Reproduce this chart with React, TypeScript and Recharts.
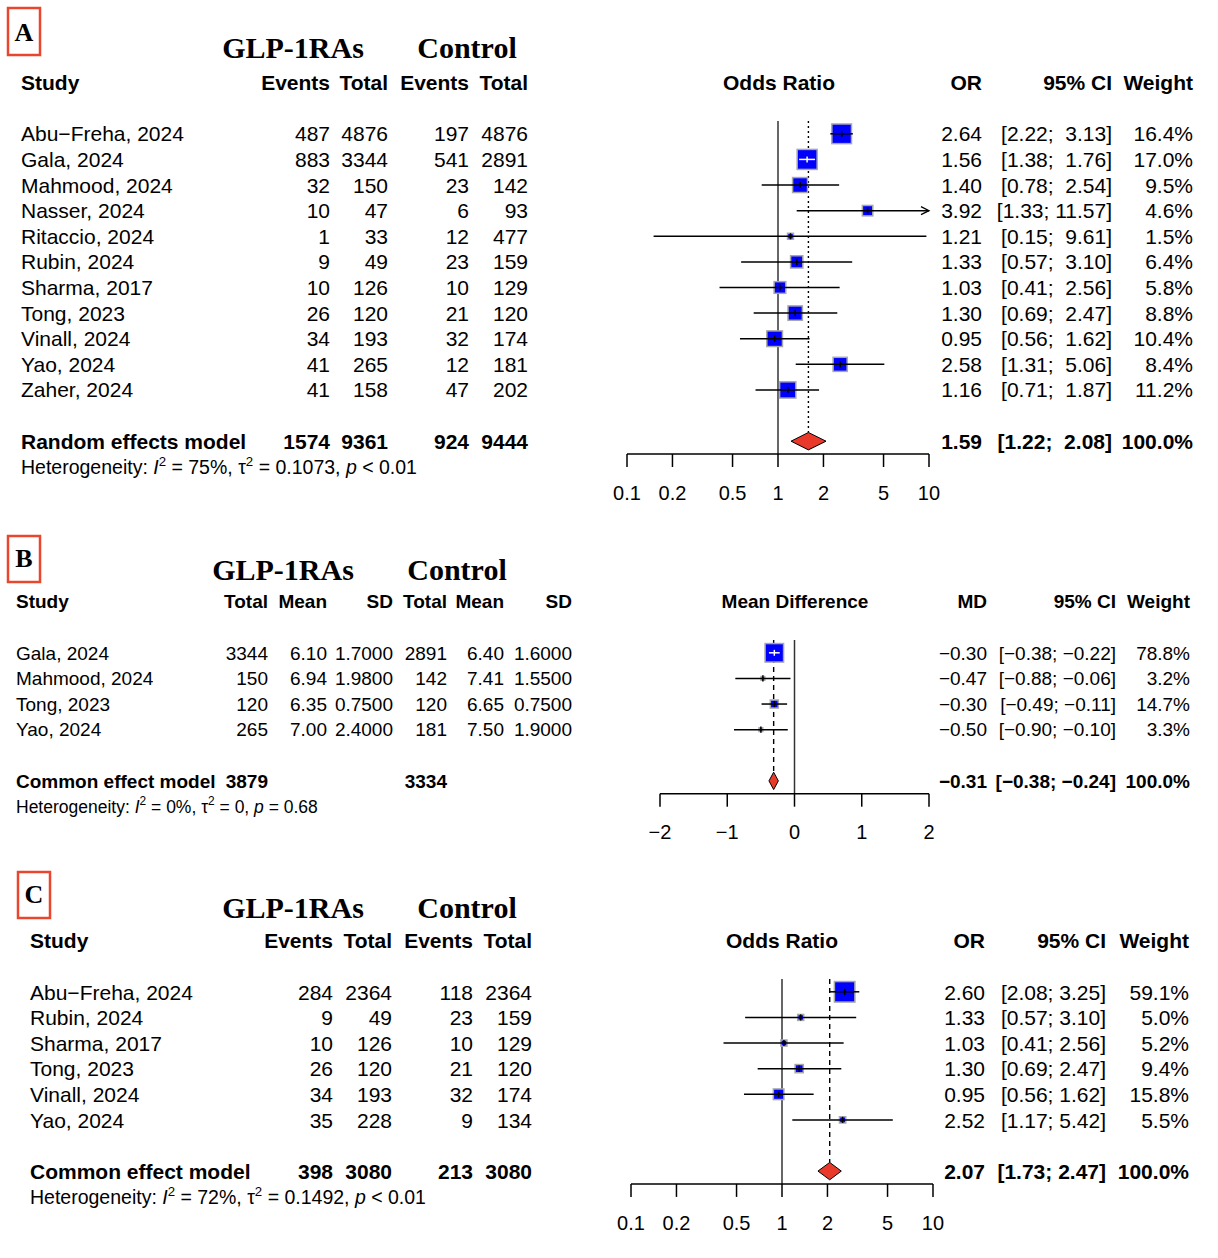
import React from 'react';
import { ComposedChart, Scatter, XAxis, YAxis, ReferenceLine, ReferenceArea } from 'recharts';

// ---------------- DATA ----------------
// Panel A
const aStudies = ['Abu−Freha, 2024', 'Gala, 2024', 'Mahmood, 2024', 'Nasser, 2024', 'Ritaccio, 2024', 'Rubin, 2024', 'Sharma, 2017', 'Tong, 2023', 'Vinall, 2024', 'Yao, 2024', 'Zaher, 2024'];
const aExpEvents = [487, 883, 32, 10, 1, 9, 10, 26, 34, 41, 41];
const aExpTotal = [4876, 3344, 150, 47, 33, 49, 126, 120, 193, 265, 158];
const aCtrlEvents = [197, 541, 23, 6, 12, 23, 10, 21, 32, 12, 47];
const aCtrlTotal = [4876, 2891, 142, 93, 477, 159, 129, 120, 174, 181, 202];
const aOR = [2.64, 1.56, 1.40, 3.92, 1.21, 1.33, 1.03, 1.30, 0.95, 2.58, 1.16];
const aLower = [2.22, 1.38, 0.78, 1.33, 0.15, 0.57, 0.41, 0.69, 0.56, 1.31, 0.71];
const aUpper = [3.13, 1.76, 2.54, 11.57, 9.61, 3.10, 2.56, 2.47, 1.62, 5.06, 1.87];
const aWeight = [16.4, 17.0, 9.5, 4.6, 1.5, 6.4, 5.8, 8.8, 10.4, 8.4, 11.2];
const aModelTotals = [1574, 9361, 924, 9444];
const aPooled = [1.59, 1.22, 2.08];
const aHet = { i2: '75%', tau2: '0.1073', p: '< 0.01' };

// Panel B
const bStudies = ['Gala, 2024', 'Mahmood, 2024', 'Tong, 2023', 'Yao, 2024'];
const bExpTotal = [3344, 150, 120, 265];
const bExpMean = [6.10, 6.94, 6.35, 7.00];
const bExpSD = [1.70, 1.98, 0.75, 2.40];
const bCtrlTotal = [2891, 142, 120, 181];
const bCtrlMean = [6.40, 7.41, 6.65, 7.50];
const bCtrlSD = [1.60, 1.55, 0.75, 1.90];
const bMD = [-0.30, -0.47, -0.30, -0.50];
const bLower = [-0.38, -0.88, -0.49, -0.90];
const bUpper = [-0.22, -0.06, -0.11, -0.10];
const bWeight = [78.8, 3.2, 14.7, 3.3];
const bModelTotals = [3879, 3334];
const bPooled = [-0.31, -0.38, -0.24];
const bHet = { i2: '0%', tau2: '0', p: '= 0.68' };

// Panel C
const cStudies = ['Abu−Freha, 2024', 'Rubin, 2024', 'Sharma, 2017', 'Tong, 2023', 'Vinall, 2024', 'Yao, 2024'];
const cExpEvents = [284, 9, 10, 26, 34, 35];
const cExpTotal = [2364, 49, 126, 120, 193, 228];
const cCtrlEvents = [118, 23, 10, 21, 32, 9];
const cCtrlTotal = [2364, 159, 129, 120, 174, 134];
const cOR = [2.60, 1.33, 1.03, 1.30, 0.95, 2.52];
const cLower = [2.08, 0.57, 0.41, 0.69, 0.56, 1.17];
const cUpper = [3.25, 3.10, 2.56, 2.47, 1.62, 5.42];
const cWeight = [59.1, 5.0, 5.2, 9.4, 15.8, 5.5];
const cModelTotals = [398, 3080, 213, 3080];
const cPooled = [2.07, 1.73, 2.47];
const cHet = { i2: '72%', tau2: '0.1492', p: '< 0.01' };

// Axis ticks
const orTicks = [0.1, 0.2, 0.5, 1, 2, 5, 10];
const mdTicks = [-2, -1, 0, 1, 2];

// ---------------- STYLE / LAYOUT ----------------
const ROW = 25.615;
const SANS = '"Liberation Sans", Arial, Helvetica, sans-serif';
const SERIF = '"Liberation Serif", "Times New Roman", Times, serif';
const BLUE = '#0000FF';
const RED = '#E8392A';
const BOXRED = '#E8472E';

const minus = (s: string) => s.replace('-', '−');
const f2 = (v: number) => minus(v.toFixed(2));
const fmtCI = (lo: number[], hi: number[]) => {
  const ls = lo.map(f2);
  const hs = hi.map(f2);
  const wl = Math.max(...ls.map((s) => s.length));
  const wh = Math.max(...hs.map((s) => s.length));
  return lo.map((_, i) => `[${ls[i].padStart(wl)}; ${hs[i].padStart(wh)}]`);
};
const pct = (v: number) => v.toFixed(1) + '%';

type ForestProps = {
  plotLeft: number;
  plotRight: number;
  plotTop: number;
  yMax: number;
  log: boolean;
  domain: [number, number];
  ticks: number[];
  est: number[];
  lo: number[];
  hi: number[];
  w: number[];
  pooled: number[];
  pooledRow: number;
  maxSide: number;
  nullX: number;
  dash: string;
  tickFont: number;
  tickMargin: number;
};

function Forest(p: ForestProps) {
  const mL = 30;
  const mR = 30;
  const mT = 10;
  const axisH = 70;
  const yMin = -0.5;
  const plotW = p.plotRight - p.plotLeft;
  const plotH = ROW * (p.yMax - yMin);
  const width = plotW + mL + mR;
  const height = mT + plotH + axisH;
  const [dMin, dMax] = p.domain;
  const wMax = Math.max(...p.w);
  const side = (w: number) => p.maxSide * Math.sqrt(w / wMax);
  const pts = p.est.map((x, i) => ({ x, y: i, w: p.w[i] }));
  const tf = (v: number) => (p.log ? String(v) : minus(String(v)));
  const tr = (v: number) => (p.log ? Math.log(v) : v);
  const [pe, pl, ph] = p.pooled;
  const frac = (tr(pe) - tr(pl)) / (tr(ph) - tr(pl));

  const squareShape = (props: any) => {
    const { cx, cy, payload } = props;
    const s = side(payload.w);
    return (
      <rect x={cx - s / 2} y={cy - s / 2} width={s} height={s} fill={BLUE} stroke="#A8A8A8" strokeWidth={1.5} />
    );
  };

  const ciShape = (props: any, s: number, arrow: boolean) => {
    const { x1, y1, x2, y2 } = props;
    const inside = Math.abs(x2 - x1) < s;
    const col = inside ? '#FFFFFF' : '#000000';
    const mx = (x1 + x2) / 2;
    return (
      <g>
        <line x1={x1} y1={y1} x2={x2} y2={y2} stroke={col} strokeWidth={1.5} />
        {inside && <line x1={mx} y1={y1 - 3} x2={mx} y2={y1 + 3} stroke="#FFFFFF" strokeWidth={1.5} />}
        {arrow && (
          <path d={`M${x2 - 8},${y2 - 4} L${x2},${y2} L${x2 - 8},${y2 + 4}`} fill="none" stroke="#000" strokeWidth={1.3} />
        )}
      </g>
    );
  };

  const diamondShape = (props: any) => {
    const { x, y, width: w, height: h } = props;
    const ax = x + frac * w;
    return (
      <polygon
        points={`${x},${y + h / 2} ${ax},${y} ${x + w},${y + h / 2} ${ax},${y + h}`}
        fill={RED}
        stroke="#000"
        strokeWidth={1}
      />
    );
  };

  return (
    <div style={{ position: 'absolute', left: p.plotLeft - mL, top: p.plotTop - mT, fontFamily: SANS }}>
      <ComposedChart width={width} height={height} margin={{ top: mT, right: mR, left: mL, bottom: 0 }}>
        <XAxis
          type="number"
          dataKey="x"
          scale={p.log ? 'log' : 'linear'}
          domain={p.domain}
          ticks={p.ticks}
          interval={0}
          allowDataOverflow
          height={axisH}
          tickSize={13}
          tickMargin={p.tickMargin}
          axisLine={{ stroke: '#000', strokeWidth: 1.5 }}
          tickLine={{ stroke: '#000', strokeWidth: 1.5 }}
          tick={{ fill: '#000', fontSize: p.tickFont }}
          tickFormatter={tf}
        />
        <YAxis type="number" dataKey="y" domain={[yMin, p.yMax]} reversed hide allowDataOverflow />
        <ReferenceLine x={p.nullX} stroke="#333" strokeWidth={1.5} />
        <ReferenceLine
          segment={[
            { x: pe, y: yMin },
            { x: pe, y: p.pooledRow - 0.34 },
          ]}
          stroke="#000"
          strokeWidth={1.4}
          strokeDasharray={p.dash}
        />
        <ReferenceArea
          x1={pl}
          x2={ph}
          y1={p.pooledRow - 0.34}
          y2={p.pooledRow + 0.34}
          shape={diamondShape}
          ifOverflow="visible"
        />
        <Scatter data={pts} shape={squareShape} isAnimationActive={false} />
        {p.est.map((e, i) => (
          <ReferenceLine
            key={'t' + i}
            segment={[
              { x: e, y: i - 0.12 },
              { x: e, y: i + 0.12 },
            ]}
            stroke="#000"
            strokeWidth={1.5}
            zIndex={700}
          />
        ))}
        {p.est.map((e, i) => {
          const lo = Math.max(p.lo[i], dMin);
          const hi = Math.min(p.hi[i], dMax);
          const arrow = p.hi[i] > dMax;
          const s = side(p.w[i]);
          return (
            <ReferenceLine
              key={'c' + i}
              segment={[
                { x: lo, y: i },
                { x: hi, y: i },
              ]}
              stroke="#000"
              zIndex={700}
              shape={(props: any) => ciShape(props, s, arrow)}
            />
          );
        })}
      </ComposedChart>
    </div>
  );
}

type TxtProps = { x: number; y: number; s: string; a?: 'start' | 'end' | 'middle'; b?: boolean; fs: number };
const Txt = ({ x, y, s, a = 'start', b = false, fs }: TxtProps) => (
  <text
    x={x}
    y={y + fs * 0.357}
    textAnchor={a}
    fontSize={fs}
    fontWeight={b ? 'bold' : 'normal'}
    fill="#000"
    xmlSpace="preserve"
    style={{ whiteSpace: 'pre' }}
  >
    {s}
  </text>
);

const Het = ({ x, y, fs, h }: { x: number; y: number; fs: number; h: { i2: string; tau2: string; p: string } }) => {
  const sup = fs * 0.68;
  const up = fs * 0.42;
  return (
    <text x={x} y={y + fs * 0.357} fontSize={fs} fill="#000" xmlSpace="preserve" style={{ whiteSpace: 'pre' }}>
      <tspan>{'Heterogeneity: '}</tspan>
      <tspan fontStyle="italic">{'I'}</tspan>
      <tspan fontSize={sup} dy={-up}>{'2'}</tspan>
      <tspan dy={up}>{` = ${h.i2}, τ`}</tspan>
      <tspan fontSize={sup} dy={-up}>{'2'}</tspan>
      <tspan dy={up}>{` = ${h.tau2}, `}</tspan>
      <tspan fontStyle="italic">{'p'}</tspan>
      <tspan>{` ${h.p}`}</tspan>
    </text>
  );
};

type TableProps = {
  plotTop: number;
  studyX: number;
  fs: number;
  hetFs: number;
  titleY: number;
  titleX: [number, number];
  headers: string[];
  colX: number[];
  cells: string[][];
  studies: string[];
  modelName: string;
  modelCells: (string | null)[];
  effName: string;
  effX: number;
  estName: string;
  rightX: [number, number, number];
  est: string[];
  ci: string[];
  wt: string[];
  pooled: [string, string, string];
  het: { i2: string; tau2: string; p: string };
  box: { x: number; y: number; w: number; h: number; letter: string; base: number };
};

function Table(t: TableProps) {
  const ry = (r: number) => t.plotTop + (r + 0.5) * ROW;
  const n = t.studies.length;
  const mRow = n + 1;
  return (
    <g>
      <rect x={t.box.x} y={t.box.y} width={t.box.w} height={t.box.h} fill="none" stroke={BOXRED} strokeWidth={2.5} />
      <text x={t.box.x + t.box.w / 2} y={t.box.base} textAnchor="middle" fontFamily={SERIF} fontWeight="bold" fontSize={26} fill="#000">
        {t.box.letter}
      </text>
      <text x={t.titleX[0]} y={t.titleY} textAnchor="middle" fontFamily={SERIF} fontWeight="bold" fontSize={30} fill="#000">
        GLP-1RAs
      </text>
      <text x={t.titleX[1]} y={t.titleY} textAnchor="middle" fontFamily={SERIF} fontWeight="bold" fontSize={30} fill="#000">
        Control
      </text>
      <Txt x={t.studyX} y={ry(-2)} s="Study" b fs={t.fs} />
      {t.headers.map((h, j) => (
        <Txt key={'h' + j} x={t.colX[j]} y={ry(-2)} s={h} a="end" b fs={t.fs} />
      ))}
      <Txt x={t.effX} y={ry(-2)} s={t.effName} a="middle" b fs={t.fs} />
      <Txt x={t.rightX[0]} y={ry(-2)} s={t.estName} a="end" b fs={t.fs} />
      <Txt x={t.rightX[1]} y={ry(-2)} s="95% CI" a="end" b fs={t.fs} />
      <Txt x={t.rightX[2]} y={ry(-2)} s="Weight" a="end" b fs={t.fs} />
      {t.studies.map((s, i) => (
        <g key={'r' + i}>
          <Txt x={t.studyX} y={ry(i)} s={s} fs={t.fs} />
          {t.cells[i].map((c, j) => (
            <Txt key={j} x={t.colX[j]} y={ry(i)} s={c} a="end" fs={t.fs} />
          ))}
          <Txt x={t.rightX[0]} y={ry(i)} s={t.est[i]} a="end" fs={t.fs} />
          <Txt x={t.rightX[1]} y={ry(i)} s={t.ci[i]} a="end" fs={t.fs} />
          <Txt x={t.rightX[2]} y={ry(i)} s={t.wt[i]} a="end" fs={t.fs} />
        </g>
      ))}
      <Txt x={t.studyX} y={ry(mRow)} s={t.modelName} b fs={t.fs} />
      {t.modelCells.map((c, j) =>
        c === null ? null : <Txt key={'m' + j} x={t.colX[j]} y={ry(mRow)} s={c} a="end" b fs={t.fs} />
      )}
      <Txt x={t.rightX[0]} y={ry(mRow)} s={t.pooled[0]} a="end" b fs={t.fs} />
      <Txt x={t.rightX[1]} y={ry(mRow)} s={t.pooled[1]} a="end" b fs={t.fs} />
      <Txt x={t.rightX[2]} y={ry(mRow)} s={t.pooled[2]} a="end" b fs={t.fs} />
      <Het x={t.studyX} y={ry(mRow + 1)} fs={t.hetFs} h={t.het} />
    </g>
  );
}

export default function App() {
  const A_TOP = 121;
  const B_TOP = 640;
  const C_TOP = 979.2;

  const aCI = fmtCI([...aLower, aPooled[1]], [...aUpper, aPooled[2]]);
  const bCI = fmtCI([...bLower, bPooled[1]], [...bUpper, bPooled[2]]);
  const cCI = fmtCI([...cLower, cPooled[1]], [...cUpper, cPooled[2]]);

  return (
    <div style={{ position: 'absolute', left: 0, top: 0, width: 1218, height: 1258, background: '#fff', fontFamily: SANS }}>
      <Forest
        plotLeft={627}
        plotRight={929}
        plotTop={A_TOP}
        yMax={12.5}
        log
        domain={[0.1, 10]}
        ticks={orTicks}
        est={aOR}
        lo={aLower}
        hi={aUpper}
        w={aWeight}
        pooled={aPooled}
        pooledRow={12}
        maxSide={20}
        nullX={1}
        dash="2 3"
        tickFont={20}
        tickMargin={19}
      />
      <Forest
        plotLeft={659.5}
        plotRight={928.5}
        plotTop={B_TOP}
        yMax={5.5}
        log={false}
        domain={[-2, 2]}
        ticks={mdTicks}
        est={bMD}
        lo={bLower}
        hi={bUpper}
        w={bWeight}
        pooled={bPooled}
        pooledRow={5}
        maxSide={18.5}
        nullX={0}
        dash="5 4"
        tickFont={20}
        tickMargin={18}
      />
      <Forest
        plotLeft={631}
        plotRight={933}
        plotTop={C_TOP}
        yMax={7.5}
        log
        domain={[0.1, 10]}
        ticks={orTicks}
        est={cOR}
        lo={cLower}
        hi={cUpper}
        w={cWeight}
        pooled={cPooled}
        pooledRow={7}
        maxSide={20.5}
        nullX={1}
        dash="5 4"
        tickFont={20}
        tickMargin={19}
      />
      <svg width={1218} height={1258} style={{ position: 'absolute', left: 0, top: 0, pointerEvents: 'none', fontFamily: SANS }}>
        <Table
          plotTop={A_TOP}
          studyX={21}
          fs={21}
          hetFs={19.5}
          titleY={58}
          titleX={[293, 467]}
          headers={['Events', 'Total', 'Events', 'Total']}
          colX={[330, 388, 469, 528]}
          cells={aStudies.map((_, i) => [String(aExpEvents[i]), String(aExpTotal[i]), String(aCtrlEvents[i]), String(aCtrlTotal[i])])}
          studies={aStudies}
          modelName="Random effects model"
          modelCells={aModelTotals.map(String)}
          effName="Odds Ratio"
          effX={779}
          estName="OR"
          rightX={[982, 1112, 1193]}
          est={aOR.map(f2)}
          ci={aCI}
          wt={aWeight.map(pct)}
          pooled={[f2(aPooled[0]), aCI[aCI.length - 1], pct(100)]}
          het={aHet}
          box={{ x: 8, y: 8, w: 32, h: 47, letter: 'A', base: 41 }}
        />
        <Table
          plotTop={B_TOP}
          studyX={16}
          fs={19}
          hetFs={17.5}
          titleY={580}
          titleX={[283, 457]}
          headers={['Total', 'Mean', 'SD', 'Total', 'Mean', 'SD']}
          colX={[268, 327, 393, 447, 504, 572]}
          cells={bStudies.map((_, i) => [
            String(bExpTotal[i]),
            bExpMean[i].toFixed(2),
            bExpSD[i].toFixed(4),
            String(bCtrlTotal[i]),
            bCtrlMean[i].toFixed(2),
            bCtrlSD[i].toFixed(4),
          ])}
          studies={bStudies}
          modelName="Common effect model"
          modelCells={[String(bModelTotals[0]), null, null, String(bModelTotals[1]), null, null]}
          effName="Mean Difference"
          effX={795}
          estName="MD"
          rightX={[987, 1116, 1190]}
          est={bMD.map(f2)}
          ci={bCI}
          wt={bWeight.map(pct)}
          pooled={[f2(bPooled[0]), bCI[bCI.length - 1], pct(100)]}
          het={bHet}
          box={{ x: 8, y: 536, w: 32, h: 46, letter: 'B', base: 567 }}
        />
        <Table
          plotTop={C_TOP}
          studyX={30}
          fs={21}
          hetFs={19.5}
          titleY={918}
          titleX={[293, 467]}
          headers={['Events', 'Total', 'Events', 'Total']}
          colX={[333, 392, 473, 532]}
          cells={cStudies.map((_, i) => [String(cExpEvents[i]), String(cExpTotal[i]), String(cCtrlEvents[i]), String(cCtrlTotal[i])])}
          studies={cStudies}
          modelName="Common effect model"
          modelCells={cModelTotals.map(String)}
          effName="Odds Ratio"
          effX={782}
          estName="OR"
          rightX={[985, 1106, 1189]}
          est={cOR.map(f2)}
          ci={cCI}
          wt={cWeight.map(pct)}
          pooled={[f2(cPooled[0]), cCI[cCI.length - 1], pct(100)]}
          het={cHet}
          box={{ x: 18, y: 872, w: 32, h: 46, letter: 'C', base: 903 }}
        />
      </svg>
    </div>
  );
}
